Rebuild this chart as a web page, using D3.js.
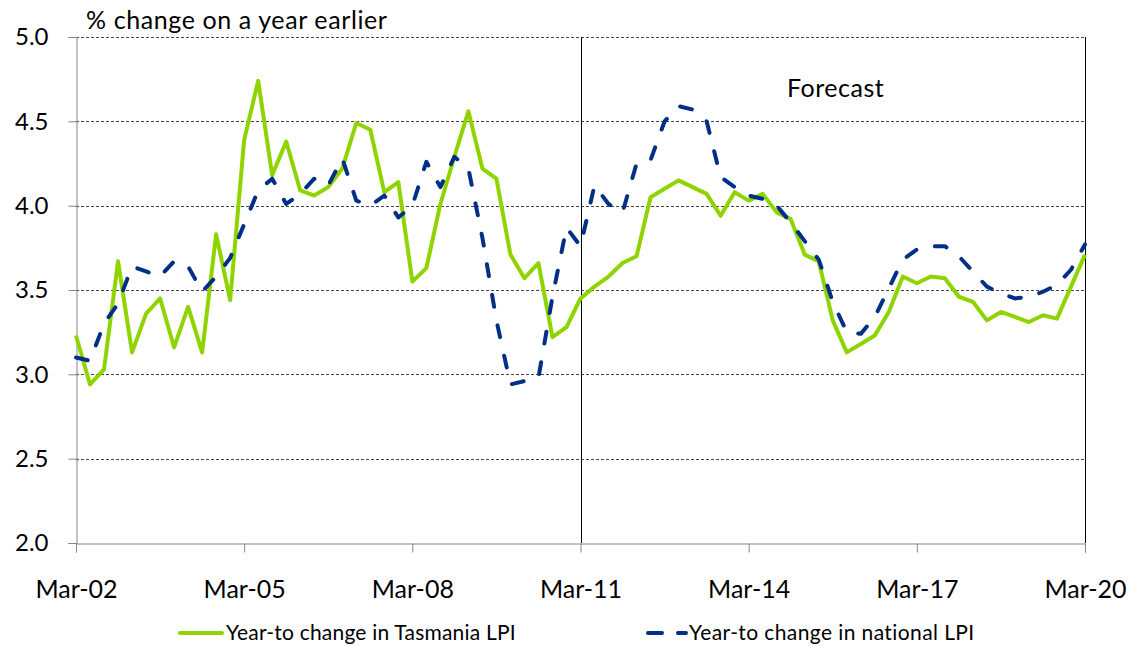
<!DOCTYPE html>
<html>
<head>
<meta charset="utf-8">
<script src="https://cdn.jsdelivr.net/npm/d3@7"></script>
<style>
  html, body { margin: 0; padding: 0; background: #fff; }
  svg { display: block; font-family: Lato, "Open Sans", sans-serif; }
</style>
</head>
<body>
<svg id="chart" width="1134" height="646"></svg>
<script>
// Quarterly, Mar-02 .. Mar-20 (73 quarters)
const tasmania = [
  3.23,2.94,3.03,3.67,3.13,3.36,3.45,3.16,3.40,3.13,3.83,3.44,
  4.39,4.74,4.18,4.38,4.09,4.06,4.11,4.22,4.49,4.45,4.08,4.14,
  3.55,3.63,4.01,4.29,4.56,4.22,4.16,3.71,3.57,3.66,3.22,3.28,
  3.45,3.52,3.58,3.66,3.70,4.05,4.10,4.15,4.11,4.07,3.94,4.08,
  4.03,4.07,3.96,3.92,3.71,3.67,3.32,3.13,3.18,3.23,3.37,3.58,
  3.54,3.58,3.57,3.46,3.43,3.32,3.37,3.34,3.31,3.35,3.33,3.52,3.71
];
const national = [
  3.10,3.08,3.30,3.42,3.64,3.61,3.58,3.67,3.64,3.49,3.58,3.69,
  3.89,4.09,4.16,4.01,4.07,4.16,4.12,4.28,4.03,4.00,4.06,3.93,
  4.00,4.26,4.11,4.29,4.22,3.81,3.32,2.94,2.96,2.98,3.46,3.87,
  3.76,4.12,4.01,3.96,4.25,4.27,4.50,4.59,4.57,4.50,4.17,4.11,
  4.06,4.04,4.00,3.90,3.79,3.68,3.43,3.25,3.24,3.34,3.51,3.68,
  3.74,3.76,3.76,3.70,3.61,3.52,3.48,3.45,3.46,3.49,3.53,3.62,3.77
];
const xTickIndex = [0,12,24,36,48,60,72];
const xTickLabels = ["Mar-02","Mar-05","Mar-08","Mar-11","Mar-14","Mar-17","Mar-20"];
const yTicks = [2.0,2.5,3.0,3.5,4.0,4.5,5.0];
const forecastStart = 36;
const seriesNames = ["Year-to change in Tasmania LPI","Year-to change in national LPI"];

(function () {
const svg = d3.select("#chart");
const pL = 76, pR = 1085, pT = 37, pB = 543;
const x = d3.scaleLinear().domain([0, 72]).range([pL, pR]);
const y = d3.scaleLinear().domain([2, 5]).range([pB, pT]);

const green = "#8fd400", navy = "#002f87";

// gridlines
svg.append("g").selectAll("line").data(yTicks.filter(d => d > 2)).join("line")
  .attr("x1", pL).attr("x2", pR)
  .attr("y1", d => Math.round(y(d)) + 0.5).attr("y2", d => Math.round(y(d)) + 0.5)
  .attr("stroke", "#444").attr("stroke-width", 1).attr("stroke-dasharray", "3,2");

// y axis
const yAxis = d3.axisLeft(y).tickValues(yTicks).tickFormat(d3.format(".1f")).tickSize(8).tickPadding(20);
const gy = svg.append("g").attr("transform", `translate(${pL + 0.5},0)`).call(yAxis);
gy.select(".domain").attr("stroke", "#868686");
gy.selectAll(".tick line").attr("stroke", "#868686");
gy.selectAll(".tick text").attr("font-size", 24).attr("fill", "#000").attr("font-family", "Lato, sans-serif");

// x axis
const xAxis = d3.axisBottom(x).tickValues(xTickIndex).tickFormat((d, i) => xTickLabels[i]).tickSize(9).tickPadding(28);
const gx = svg.append("g").attr("transform", `translate(0,${pB + 0.5})`).call(xAxis);
gx.select(".domain").attr("stroke", "#868686");
gx.selectAll(".tick line").attr("stroke", "#868686");
gx.selectAll(".tick text").attr("font-size", 25).attr("fill", "#000").attr("font-family", "Lato, sans-serif");

// right border
svg.append("line").attr("x1", pR + 0.5).attr("x2", pR + 0.5).attr("y1", pT).attr("y2", pB)
  .attr("stroke", "#000").attr("stroke-width", 1);

// forecast divider
svg.append("line").attr("x1", Math.round(x(forecastStart)) + 0.5).attr("x2", Math.round(x(forecastStart)) + 0.5)
  .attr("y1", pT).attr("y2", pB).attr("stroke", "#000").attr("stroke-width", 1);

svg.append("text").attr("x", 787).attr("y", 97).attr("font-size", 25)
  .attr("letter-spacing", 0.5).attr("fill", "#000").text("Forecast");

// title
svg.append("text").attr("x", 86).attr("y", 29).attr("font-size", 25)
  .attr("letter-spacing", 0.6).attr("fill", "#000").text("% change on a year earlier");

const line = d3.line().x((d, i) => x(i)).y(d => y(d));

svg.append("path").datum(tasmania).attr("d", line)
  .attr("fill", "none").attr("stroke", green).attr("stroke-width", 4).attr("stroke-linejoin", "round");

svg.append("path").datum(national).attr("d", line)
  .attr("fill", "none").attr("stroke", navy).attr("stroke-width", 4)
  .attr("stroke-dasharray", "12,19").attr("stroke-linecap", "round").attr("stroke-linejoin", "round");

// legend
const lg = svg.append("g");
lg.append("line").attr("x1", 180).attr("x2", 222).attr("y1", 633).attr("y2", 633)
  .attr("stroke", green).attr("stroke-width", 4).attr("stroke-linecap", "round");
lg.append("text").attr("x", 226).attr("y", 640).attr("font-size", 21)
  .attr("letter-spacing", 0.2).attr("fill", "#000").text(seriesNames[0]);
lg.append("line").attr("x1", 648).attr("x2", 686).attr("y1", 633).attr("y2", 633)
  .attr("stroke", navy).attr("stroke-width", 4).attr("stroke-linecap", "round").attr("stroke-dasharray", "14,16");
lg.append("text").attr("x", 689).attr("y", 640).attr("font-size", 21)
  .attr("letter-spacing", 0.4).attr("fill", "#000").text(seriesNames[1]);
})();
</script>
</body>
</html>
